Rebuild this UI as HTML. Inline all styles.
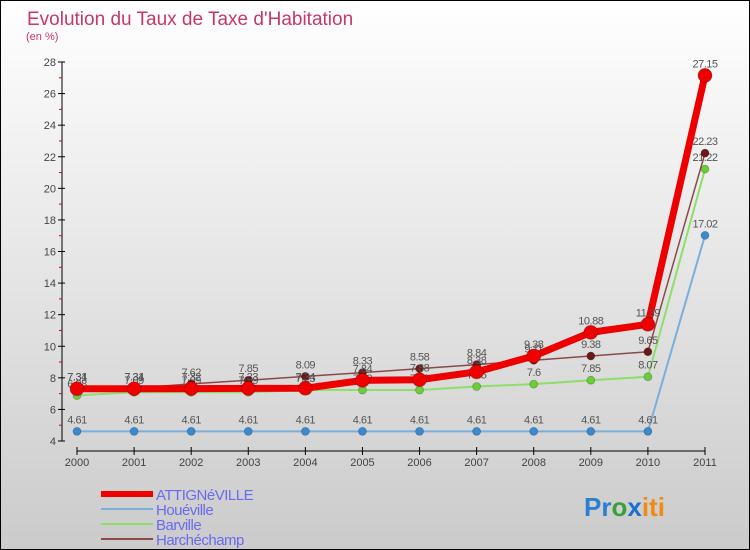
<!DOCTYPE html>
<html><head><meta charset="utf-8">
<style>
html,body{margin:0;padding:0;}
body{width:750px;height:550px;overflow:hidden;font-family:"Liberation Sans",sans-serif;}
#wrap{position:relative;width:748px;height:548px;border:1px solid #000;background:linear-gradient(#ffffff,#cbcbcb);}
svg{position:absolute;left:0;top:0;}
</style></head><body>
<div id="wrap">
<svg id="chart" width="748" height="548">
<text x="26" y="24" font-size="19" fill="#c8366a">Evolution du Taux de Taxe d'Habitation</text>
<text x="25" y="39" font-size="11" fill="#c8366a">(en %)</text>
<g id="axes"></g>
<g id="series"></g>
<g id="legend"></g>
<g font-size="26" font-weight="bold">
<text x="583" y="515"><tspan fill="#2a7fd0">Pr</tspan><tspan fill="#3aa03a">o</tspan><tspan fill="#1a6fd0">x</tspan><tspan fill="#f08a10">iti</tspan></text>
</g>
</svg>
</div>
<script>
const years=[2000,2001,2002,2003,2004,2005,2006,2007,2008,2009,2010,2011];
const yTicks=[4,6,8,10,12,14,16,18,20,22,24,26,28];
const attigneville=[7.31,7.31,7.32,7.33,7.34,7.84,7.88,8.38,9.38,10.88,11.39,27.15];
const houeville=[4.61,4.61,4.61,4.61,4.61,4.61,4.61,4.61,4.61,4.61,4.61,17.02];
const barville=[6.88,7.09,7.09,7.09,7.23,7.23,7.23,7.45,7.6,7.85,8.07,21.22];
const harchechamp=[7.34,7.34,7.62,7.85,8.09,8.33,8.58,8.84,9.11,9.38,9.65,22.23];
const seriesNames=["ATTIGNéVILLE","Houéville","Barville","Harchéchamp"];

const NS="http://www.w3.org/2000/svg";
function X(i){return 76+i*(628/11);}
function Y(v){return 440-(v-4)*(379/24);}
function mk(tag,attrs,parent){const e=document.createElementNS(NS,tag);for(const k in attrs)e.setAttribute(k,attrs[k]);parent.appendChild(e);return e;}
const axes=document.getElementById('axes');
const ser=document.getElementById('series');
const leg=document.getElementById('legend');

let yAxis=mk('line',{x1:61,y1:Y(28),x2:61,y2:Y(4),stroke:'#000','stroke-width':1},axes);


let xAxis=mk('line',{x1:X(0),y1:450,x2:X(11),y2:450,stroke:'#000','stroke-width':1},axes);


yTicks.forEach(v=>{
  mk('line',{x1:57,y1:Y(v),x2:64,y2:Y(v),stroke:'#000'},axes);
  if(v<28) mk('line',{x1:58,y1:Y(v+1),x2:61,y2:Y(v+1),stroke:'#e00000'},axes);
  const t=mk('text',{x:55,y:Y(v)+4,'font-size':11,fill:'#444','text-anchor':'end'},axes);
  t.textContent=v;
  
  
});
years.forEach((yr,i)=>{
  mk('line',{x1:X(i),y1:446,x2:X(i),y2:454,stroke:'#000'},axes);
  const t=mk('text',{x:X(i),y:465,'font-size':11,fill:'#444','text-anchor':'middle'},axes);
  t.textContent=yr;
  
  
});

const defs=[
 {d:houeville,c:'#7aaedb',pc:'#3a8ad0',w:2,r:4,name:'series-houeville'},
 {d:barville,c:'#8ede6a',pc:'#6ccc3a',w:2,r:4,name:'series-barville'},
 {d:harchechamp,c:'#8a4a4a',pc:'#6a1818',w:1.5,r:4,name:'series-harchechamp'},
 {d:attigneville,c:'#ee0000',pc:'#ee0000',w:7,r:7,name:'series-attigneville'}
];
defs.forEach(s=>{
  const g=mk('g',{},ser);
  
  
  const pl=mk('polyline',{points:s.d.map((v,i)=>X(i)+','+Y(v)).join(' '),fill:'none',stroke:s.c,'stroke-width':s.w,'stroke-linejoin':'round'},g);
  
  
  s.d.forEach((v,i)=>{
    const c=mk('circle',{cx:X(i),cy:Y(v),r:s.r,fill:s.pc,stroke:'rgba(0,0,0,0.25)','stroke-width':0.8},g);
    
    
    const t=mk('text',{x:X(i),y:Y(v)-8,'font-size':11,fill:'#555','text-anchor':'middle','letter-spacing':'-0.5'},g);
    t.textContent=String(v);
    
    
  });
});

const legCols=['#ee0000','#7aaedb','#8ede6a','#8a4a4a'];
const legW=[6,2,2,2];
seriesNames.forEach((n,i)=>{
  const y=493+i*15;
  const l=mk('line',{x1:100,y1:y,x2:152,y2:y,stroke:legCols[i],'stroke-width':legW[i]},leg);
  
  
  const t=mk('text',{x:155,y:y+6,'font-size':15,fill:'#6a6af0','letter-spacing':'-0.5'},leg);
  t.textContent=n;
  
  
});
</script>
</body></html>
